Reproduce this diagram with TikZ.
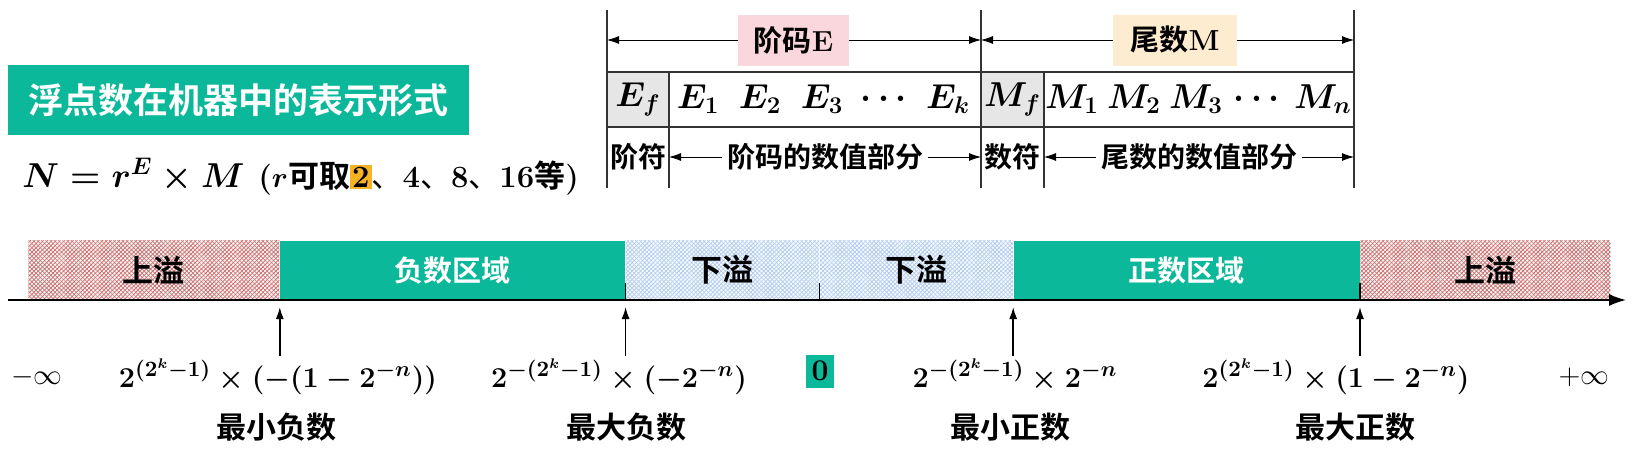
\documentclass[tikz,border=0pt]{standalone}
\usepackage{fontspec}
\usepackage{amsmath,amssymb}
\usepackage{tikz}
\usetikzlibrary{positioning,arrows.meta,calc,patterns.meta}
\usepackage{xcolor}
\newfontfamily\cjk{Noto Sans CJK SC}[BoldFont={Noto Sans CJK SC Bold}]
\definecolor{tealz}{RGB}{11,184,153}
\definecolor{pinkz}{RGB}{250,215,220}
\definecolor{peachz}{RGB}{253,236,208}
\definecolor{cellgray}{RGB}{230,230,230}
\definecolor{hl}{RGB}{245,178,35}

\begin{document}
\begin{tikzpicture}[
    x=0.5pt, y=-0.5pt,
    >={Latex[length=6pt,width=4pt]},
    title/.style={fill=tealz, text=white, anchor=north west, inner sep=0pt, minimum width=230.5pt, minimum height=35pt, font=\cjk\bfseries\fontsize{17.5}{20}\selectfont},
    expr/.style={inner sep=0pt, font=\boldmath\fontsize{18.5}{22}\selectfont},
    note/.style={inner sep=0pt, font=\boldmath\fontsize{15.5}{18}\selectfont},
    grid/.style={line width=0.8pt, black!80},
    head/.style={fill=#1, inner sep=0pt, minimum width=55.5pt, minimum height=25.5pt, font=\cjk\bfseries\fontsize{14.5}{17}\selectfont},
    bit/.style={inner sep=0pt, font=\boldmath\fontsize{17}{19}\selectfont},
    part/.style={inner sep=2.5pt, font=\cjk\bfseries\fontsize{14}{16}\selectfont},
    zone/.style={anchor=south west, inner sep=0pt, minimum height=29.5pt, font=\cjk\bfseries\fontsize{15.5}{17}\selectfont},
    ovf/.style={zone, fill=red!6,
        postaction={pattern={Lines[angle=45,distance=1.5pt,line width=0.35pt]}, pattern color=red!70},
        postaction={pattern={Lines[angle=-45,distance=1.5pt,line width=0.3pt]}, pattern color=black!45}},
    udf/.style={zone, fill=cyan!5,
        postaction={pattern={Lines[angle=45,distance=1.5pt,line width=0.35pt]}, pattern color=cyan!50!black!35},
        postaction={pattern={Lines[angle=-45,distance=1.5pt,line width=0.3pt]}, pattern color=blue!25}},
    real/.style={zone, fill=tealz, text=white, font=\cjk\bfseries\fontsize{14.5}{17}\selectfont},
    tickmark/.style={line width=0.8pt},
    axis/.style={line width=0.8pt, -{Latex[length=8.5pt,width=6pt]}},
    ptr/.style={line width=0.8pt, ->, shorten >=3.5pt, shorten <=1pt},
    val/.style={inner sep=0pt, anchor=base, font=\boldmath\fontsize{15}{18}\selectfont},
    inf/.style={inner sep=0pt, anchor=base, font=\fontsize{15}{18}\selectfont},
    zero/.style={fill=tealz, inner sep=0pt, minimum width=14pt, minimum height=16.5pt, font=\bfseries\fontsize{15}{17}\selectfont},
    tag/.style={font=\cjk\bfseries\fontsize{15}{17}\selectfont}
]
\useasboundingbox (0,0) rectangle (1634,462);

% title and formula
\node[title] (ttl) at (8,65) {浮点数在机器中的表示形式};
\node[expr, anchor=base west] (fN) at (22,187) {$N = r^{E} \times M$};
\node[note, anchor=base west] (fR) at (258,187) {\textbf{(}$r${\cjk\bfseries 可取}{\setlength\fboxsep{1pt}\colorbox{hl}{\textbf{2}}}{\cjk 、}\textbf{4}{\cjk 、}\textbf{8}{\cjk 、}\textbf{16}{\cjk\bfseries 等}\textbf{)}};

% table
\fill[cellgray] (607,72) rectangle (669,127);
\fill[cellgray] (981,72) rectangle (1044,127);
\draw[grid] (607,10) -- (607,188) (981,10) -- (981,188) (1354,10) -- (1354,188);
\draw[grid] (669,72) -- (669,188) (1044,72) -- (1044,188);
\draw[grid] (607,72) -- (1354,72) (607,127) -- (1354,127);

\node[head=pinkz] (hE) at (793.5,40) {阶码{\rmfamily\bfseries E}};
\node[head=peachz, minimum width=62pt] (hM) at (1175,40) {尾数{\rmfamily\bfseries M}};
\coordinate (eL) at (607,40);
\coordinate (eR) at (981,40);
\coordinate (mR) at (1354,40);
\draw[->] (hE.west) -- (eL);
\draw[->] (hE.east) -- (eR);
\draw[->] (hM.west) -- (eR);
\draw[->] (hM.east) -- (mR);

\node[bit] (ef) at (638,99.5) {$E_f$};
\node[bit] (e1) at (698,99.5) {$E_1$};
\node[bit] (e2) at (760,99.5) {$E_2$};
\node[bit] (e3) at (822,99.5) {$E_3$};
\node[bit] (ed) at (887,99.5) {$\cdots$};
\node[bit] (ek) at (948,99.5) {$E_k$};
\node[bit] (mf) at (1012.5,99.5) {$M_f$};
\node[bit] (m1) at (1072,99.5) {$M_1$};
\node[bit] (m2) at (1134,99.5) {$M_2$};
\node[bit] (m3) at (1196,99.5) {$M_3$};
\node[bit] (md) at (1260,99.5) {$\cdots$};
\node[bit] (mn) at (1323,99.5) {$M_n$};

\node[part] (sE) at (638,157) {阶符};
\node[part] (vE) at (825,157) {阶码的数值部分};
\node[part] (sM) at (1012.5,157) {数符};
\node[part] (vM) at (1199,157) {尾数的数值部分};
\coordinate (vEl) at (669,157);
\coordinate (vEr) at (981,157);
\coordinate (vMl) at (1044,157);
\coordinate (vMr) at (1354,157);
\draw[->] (vE.west) -- (vEl);
\draw[->] (vE.east) -- (vEr);
\draw[->] (vM.west) -- (vMl);
\draw[->] (vM.east) -- (vMr);

% number line
\node[ovf, minimum width=125.5pt] (ovL) at (28,300) {上溢};
\node[real, minimum width=172.5pt, right=0pt of ovL] (neg) {负数区域};
\node[udf, minimum width=96.5pt, right=0pt of neg] (unL) {下溢};
\node[udf, minimum width=96.5pt, right=0pt of unL] (unR) {下溢};
\node[real, minimum width=173pt, right=0pt of unR] (pos) {正数区域};
\node[ovf, minimum width=125pt, right=0pt of pos] (ovR) {上溢};

\draw[tickmark] (unL.south west) -- ++(0,-17);
\draw[tickmark] (unR.south west) -- ++(0,-17);
\draw[tickmark] (ovR.south west) -- ++(0,-17);

\coordinate (axL) at (8,300);
\coordinate (axR) at (1626,300);
\draw[axis] (axL) -- (axR);

\node[inf] (ninf) at (37,384) {$-\infty$};
\node[val] (vMinN) at (278,387) {$2^{(2^k-1)}\times(-(1-2^{-n}))$};
\node[val] (vMaxN) at (619,387) {$2^{-(2^k-1)}\times(-2^{-n})$};
\node[zero] (zero) at (820,371) {0};
\node[val] (vMinP) at (1015,387) {$2^{-(2^k-1)}\times 2^{-n}$};
\node[val] (vMaxP) at (1336,387) {$2^{(2^k-1)}\times(1-2^{-n})$};
\node[inf] (pinf) at (1584,384) {$+\infty$};

\draw[ptr] (neg.south west |- vMinN.north) -- (neg.south west);
\draw[ptr] (unL.south west |- vMaxN.north) -- (unL.south west);
\draw[ptr] (pos.south west |- vMinP.north) -- (pos.south west);
\draw[ptr] (ovR.south west |- vMaxP.north) -- (ovR.south west);

\node[tag] (tMinN) at (276,427) {最小负数};
\node[tag] (tMaxN) at (626,427) {最大负数};
\node[tag] (tMinP) at (1010,427) {最小正数};
\node[tag] (tMaxP) at (1355,427) {最大正数};
\end{tikzpicture}
\end{document}
